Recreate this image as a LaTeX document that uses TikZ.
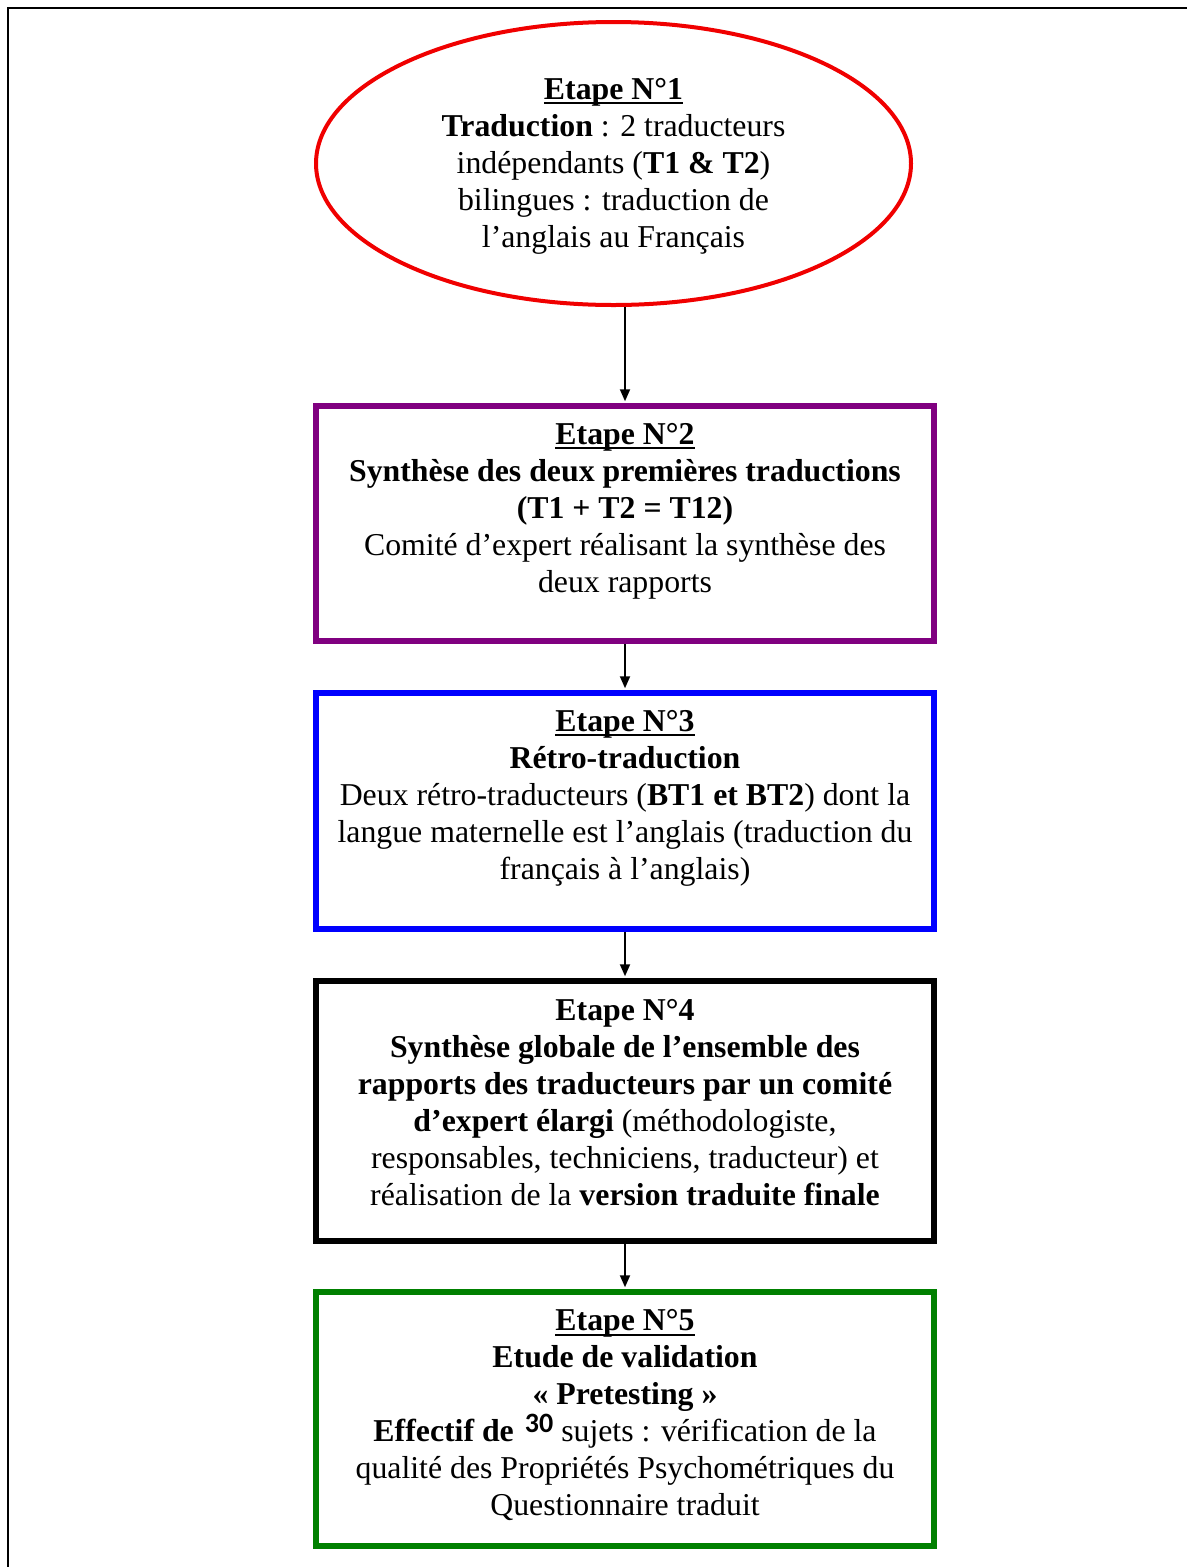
\documentclass[tikz,border=0pt]{standalone}
\usepackage{fontspec}
\setmainfont{Liberation Serif}
\newfontfamily\calib{Carlito}
\usetikzlibrary{shapes.geometric,arrows.meta}
\definecolor{stepred}{RGB}{240,0,0}
\definecolor{steppurple}{RGB}{128,0,128}
\definecolor{stepblue}{RGB}{0,0,255}
\definecolor{stepgreen}{RGB}{0,128,0}
\newcommand\uln[1]{\setbox0\hbox{#1}\leavevmode\rlap{\rule[-5pt]{\wd0}{1.8pt}}\box0}
\newcommand\patchnum{\raisebox{9pt}[0pt][0pt]{\calib\bfseries\fontsize{28}{30}\selectfont 30}}
\tikzset{
  stepbox/.style={draw, line width=5.5pt, rectangle, inner sep=0pt, minimum width=618pt},
  steptext/.style={align=center, inner sep=0pt, font=\fontsize{31.8}{37}\selectfont, text=black},
  arr/.style={draw=black, line width=1.9pt, -{Triangle[length=12pt,width=10pt]}, shorten >=2pt}
}
\begin{document}
\begin{tikzpicture}[x=1pt,y=-1pt]
\useasboundingbox (0,0) rectangle (1187,1567);
% outer frame
\draw[line width=2.8pt] (8,1567) -- (8,8) -- (1187,8);

% step 1
\node[ellipse, draw=stepred, line width=4pt, minimum width=595pt, minimum height=283pt, inner sep=0pt] (s1) at (613.5,163.5) {};
\node[steptext] (t1) at (613.5,166) {\uln{\textbf{Etape N°1}}\\
\textbf{Traduction} : 2 traducteurs\\
indépendants (\textbf{T1 \& T2})\\
bilingues : traduction de\\
l’anglais au Français};

% step 2
\node[stepbox, draw=steppurple, minimum height=235pt] (s2) at (625,523.5) {};
\node[steptext] (t2) at (625,511) {\uln{\textbf{Etape N°2}}\\
\textbf{Synthèse des deux premières traductions}\\
\textbf{(T1 + T2 = T12)}\\
Comité d’expert réalisant la synthèse des\\
deux rapports};

% step 3
\node[stepbox, draw=stepblue, minimum height=236pt] (s3) at (625,811) {};
\node[steptext] (t3) at (625,798) {\uln{\textbf{Etape N°3}}\\
\textbf{Rétro-traduction}\\
Deux rétro-traducteurs (\textbf{BT1 et BT2}) dont la\\
langue maternelle est l’anglais (traduction du\\
français à l’anglais)};

% step 4
\node[stepbox, draw=black, minimum height=260pt] (s4) at (625,1111) {};
\node[steptext] (t4) at (625,1103) {\textbf{Etape N°4}\\
\textbf{Synthèse globale de l’ensemble des}\\
\textbf{rapports des traducteurs par un comité}\\
\textbf{d’expert élargi} (méthodologiste,\\
responsables, techniciens, traducteur) et\\
réalisation de la \textbf{version traduite finale}};

% step 5
\node[stepbox, draw=stepgreen, minimum height=254pt] (s5) at (625,1419) {};
\node[steptext] (t5) at (625,1415) {\uln{\textbf{Etape N°5}}\\
\textbf{Etude de validation}\\
\textbf{« Pretesting »}\\
\textbf{Effectif de}\hspace{11pt}\patchnum\hspace{8pt}sujets : vérification de la\\
qualité des Propriétés Psychométriques du\\
Questionnaire traduit};

% connectors
\draw[arr] (s1.south -| s2.north) -- (s2.north);
\draw[arr] (s2.south) -- (s3.north);
\draw[arr] (s3.south) -- (s4.north);
\draw[arr] (s4.south) -- (s5.north);
\end{tikzpicture}
\end{document}
